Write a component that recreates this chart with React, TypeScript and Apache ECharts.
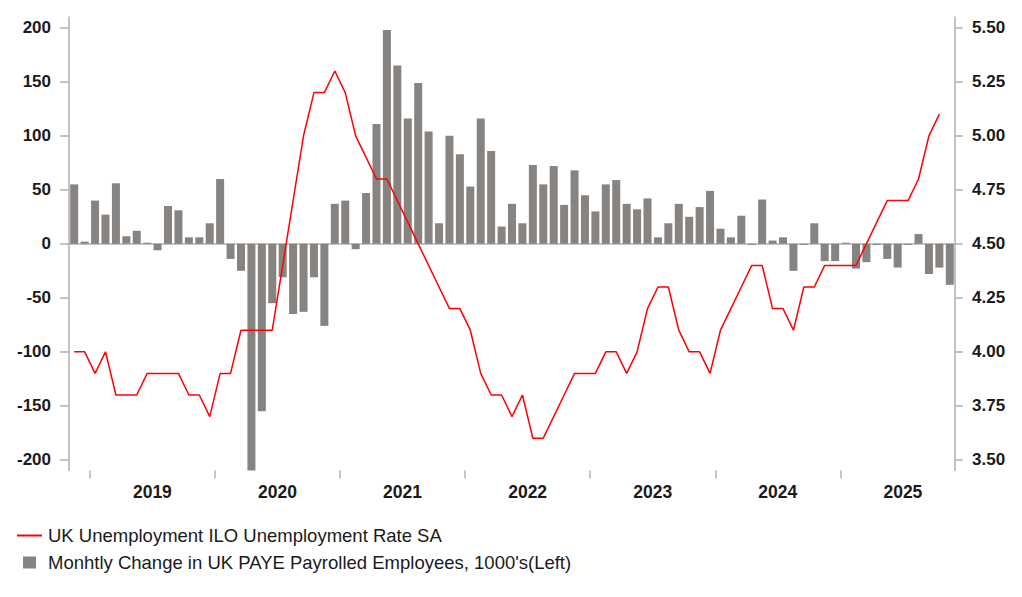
import React, { useEffect, useRef } from 'react';
import * as echarts from 'echarts';

const months = [
  '2018-11', '2018-12',
  '2019-01', '2019-02', '2019-03', '2019-04', '2019-05', '2019-06', '2019-07', '2019-08', '2019-09', '2019-10', '2019-11', '2019-12',
  '2020-01', '2020-02', '2020-03', '2020-04', '2020-05', '2020-06', '2020-07', '2020-08', '2020-09', '2020-10', '2020-11', '2020-12',
  '2021-01', '2021-02', '2021-03', '2021-04', '2021-05', '2021-06', '2021-07', '2021-08', '2021-09', '2021-10', '2021-11', '2021-12',
  '2022-01', '2022-02', '2022-03', '2022-04', '2022-05', '2022-06', '2022-07', '2022-08', '2022-09', '2022-10', '2022-11', '2022-12',
  '2023-01', '2023-02', '2023-03', '2023-04', '2023-05', '2023-06', '2023-07', '2023-08', '2023-09', '2023-10', '2023-11', '2023-12',
  '2024-01', '2024-02', '2024-03', '2024-04', '2024-05', '2024-06', '2024-07', '2024-08', '2024-09', '2024-10', '2024-11', '2024-12',
  '2025-01', '2025-02', '2025-03', '2025-04', '2025-05', '2025-06', '2025-07', '2025-08', '2025-09', '2025-10', '2025-11',
];

const payrollChange = [
  55, 2,
  40, 27, 56, 7, 12, 1, -6, 35, 31, 6, 6, 19,
  60, -14, -25, -420, -155, -55, -31, -65, -63, -31, -76, 37,
  40, -5, 47, 111, 198, 165, 116, 149, 104, 19, 100, 83,
  53, 116, 86, 16, 37, 19, 73, 55, 72, 36, 68, 45,
  30, 55, 59, 37, 32, 42, 6, 19, 37, 25, 34, 49,
  14, 6, 26, -1, 41, 3, 6, -25, -1, 19, -16, -16,
  1, -23, -17, -1, -14, -22, -1, 9, -28, -22, -38,
];

const unemploymentRate = [
  4.0, 4.0,
  3.9, 4.0, 3.8, 3.8, 3.8, 3.9, 3.9, 3.9, 3.9, 3.8, 3.8, 3.7,
  3.9, 3.9, 4.1, 4.1, 4.1, 4.1, 4.4, 4.7, 5.0, 5.2, 5.2, 5.3,
  5.2, 5.0, 4.9, 4.8, 4.8, 4.7, 4.6, 4.5, 4.4, 4.3, 4.2, 4.2,
  4.1, 3.9, 3.8, 3.8, 3.7, 3.8, 3.6, 3.6, 3.7, 3.8, 3.9, 3.9,
  3.9, 4.0, 4.0, 3.9, 4.0, 4.2, 4.3, 4.3, 4.1, 4.0, 4.0, 3.9,
  4.1, 4.2, 4.3, 4.4, 4.4, 4.2, 4.2, 4.1, 4.3, 4.3, 4.4, 4.4,
  4.4, 4.4, 4.5, 4.6, 4.7, 4.7, 4.7, 4.8, 5.0, 5.1, null,
];

const leftTicks = [-200, -150, -100, -50, 0, 50, 100, 150, 200];
const rightTicks = [3.5, 3.75, 4.0, 4.25, 4.5, 4.75, 5.0, 5.25, 5.5];
const yearLabels = ['2019', '2020', '2021', '2022', '2023', '2024', '2025'];

const lineName = 'UK Unemployment ILO Unemployment Rate SA';
const barName = "Monhtly Change in UK PAYE Payrolled Employees, 1000's(Left)";

export default function App() {
  const ref = useRef<HTMLDivElement>(null);

  useEffect(() => {
    const chart = echarts.init(ref.current!, null, { renderer: 'svg' });
    const font = '"Liberation Sans", Arial, Helvetica, sans-serif';
    const axisColor = '#b0b0b0';
    const labelStyle = { color: '#1a1a1a', fontSize: 17, fontWeight: 'bold' as const, fontFamily: font };

    const firstYearIndex = months.indexOf('2019-01');
    const yearStarts = yearLabels.map((y) => months.indexOf(y + '-01'));
    const yearCenters = yearStarts.map((s) => s + 6);

    chart.setOption({
      animation: false,
      grid: { left: 69, right: 67, top: 17, bottom: 126.4 },
      legend: [
        {
          data: [{ name: lineName, icon: 'rect' }],
          orient: 'vertical',
          left: 12,
          top: 521,
          itemWidth: 25,
          itemHeight: 2,
          selectedMode: false,
          textStyle: { fontSize: 18.5, color: '#1a1a1a', fontFamily: font, padding: [0, 0, 0, 1] },
        },
        {
          data: [{ name: barName, icon: 'rect' }],
          orient: 'vertical',
          left: 18,
          top: 548,
          itemWidth: 13,
          itemHeight: 12,
          selectedMode: false,
          textStyle: { fontSize: 18.5, color: '#1a1a1a', fontFamily: font, padding: [0, 0, 0, 7] },
        },
      ],
      xAxis: [
        {
          type: 'category',
          data: months,
          boundaryGap: true,
          axisLine: { show: true, lineStyle: { color: axisColor, width: 1.5 } },
          axisTick: { show: false },
          axisLabel: { show: false },
          splitLine: { show: false },
        },
        {
          type: 'value',
          min: 0,
          max: months.length,
          position: 'bottom',
          axisLine: { show: false },
          axisTick: {
            show: true,
            customValues: yearStarts,
            length: 8,
            lineStyle: { color: axisColor, width: 1.5 },
          },
          axisLabel: {
            show: true,
            customValues: yearCenters,
            margin: 12,
            ...labelStyle,
            fontSize: 17.5,
            formatter: (v: number) => yearLabels[Math.round((v - firstYearIndex - 6) / 12)] ?? '',
          },
          splitLine: { show: false },
        },
      ],
      yAxis: [
        {
          type: 'value',
          min: -210,
          max: 210,
          position: 'left',
          axisLine: { show: true, lineStyle: { color: axisColor, width: 1.5 } },
          axisTick: { show: true, customValues: leftTicks, length: 9, lineStyle: { color: axisColor, width: 1.5 } },
          axisLabel: { customValues: leftTicks, margin: 18, ...labelStyle, formatter: (v: number) => String(v) },
          splitLine: { show: false },
        },
        {
          type: 'value',
          min: 3.45,
          max: 5.55,
          position: 'right',
          axisLine: { show: true, lineStyle: { color: axisColor, width: 1.5 } },
          axisTick: { show: true, customValues: rightTicks, length: 8, lineStyle: { color: axisColor, width: 1.5 } },
          axisLabel: { customValues: rightTicks, margin: 17, ...labelStyle, formatter: (v: number) => v.toFixed(2) },
          splitLine: { show: false },
        },
      ],
      series: [
        {
          name: barName,
          type: 'bar',
          xAxisIndex: 0,
          yAxisIndex: 0,
          data: payrollChange,
          barWidth: 8,
          clip: true,
          itemStyle: { color: '#878381' },
        },
        {
          name: lineName,
          type: 'line',
          xAxisIndex: 0,
          yAxisIndex: 1,
          data: unemploymentRate,
          showSymbol: false,
          symbol: 'none',
          color: '#ff0000',
          lineStyle: { color: '#ff0000', width: 1.5 },
          z: 3,
        },
      ],
    });

    return () => chart.dispose();
  }, []);

  return (
    <div
      ref={ref}
      style={{ position: 'fixed', left: 0, top: 0, width: 1022, height: 597, background: '#ffffff' }}
    />
  );
}
